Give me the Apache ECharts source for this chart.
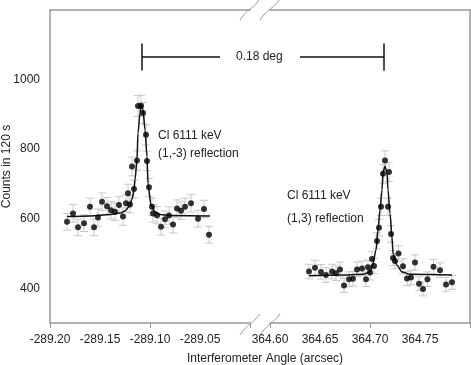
<!DOCTYPE html>
<html>
<head>
<meta charset="utf-8">
<script src="https://cdn.jsdelivr.net/npm/echarts@6/dist/echarts.min.js"></script>
<style>
    html, body { margin: 0; padding: 0; background: #fff; }
    #chart { width: 471px; height: 365px; }
</style>
</head>
<body>
<div id="chart"></div>
<script>
// (1,-3) reflection, left panel
const leftAngles = [
    -289.183, -289.177, -289.172, -289.166, -289.160, -289.156, -289.152, -289.148,
    -289.143, -289.139, -289.135, -289.131, -289.127, -289.124, -289.122, -289.120,
    -289.118, -289.116, -289.113, -289.112, -289.109, -289.107, -289.104, -289.103,
    -289.101, -289.098, -289.097, -289.093, -289.089, -289.085, -289.081, -289.077,
    -289.073, -289.069, -289.065, -289.059, -289.052, -289.046, -289.041
];
const leftCounts = [
    591, 615, 575, 587, 634, 575, 603, 649,
    636, 624, 620, 639, 606, 644, 673, 641,
    750, 685, 767, 924, 925, 904, 841, 766,
    690, 634, 615, 610, 577, 598, 609, 583,
    629, 623, 634, 644, 600, 628, 554
];
const leftErrors = [
    24, 25, 24, 24, 25, 24, 25, 25,
    25, 25, 25, 25, 25, 25, 26, 25,
    27, 26, 28, 30, 30, 30, 29, 28,
    26, 25, 25, 25, 24, 24, 25, 24,
    25, 25, 25, 25, 24, 25, 24
];
const leftFitAngles = [
    -289.183, -289.160, -289.140, -289.130, -289.125, -289.121, -289.118, -289.116,
    -289.115, -289.113, -289.112, -289.110, -289.109, -289.107, -289.105, -289.103,
    -289.102, -289.099, -289.095, -289.090, -289.080, -289.040
];
const leftFitCounts = [
    606, 608, 612, 616, 622, 634, 656, 682,
    712, 770, 846, 904, 928, 914, 856, 779,
    700, 640, 620, 612, 609, 608
];

// (1,3) reflection, right panel
const rightAngles = [
    364.639, 364.645, 364.651, 364.656, 364.662, 364.666, 364.670, 364.674,
    364.679, 364.683, 364.687, 364.692, 364.696, 364.698, 364.700, 364.702,
    364.704, 364.707, 364.709, 364.711, 364.713, 364.715, 364.718, 364.719,
    364.721, 364.723, 364.725, 364.7285, 364.733, 364.737, 364.741, 364.745,
    364.749, 364.753, 364.7575, 364.7635, 364.770, 364.776, 364.782
];
const rightCounts = [
    448, 459, 447, 438, 448, 443, 454, 408,
    426, 427, 454, 457, 426, 460, 445, 484,
    464, 536, 574, 634, 729, 767, 634, 734,
    556, 487, 478, 500, 463, 428, 431, 474,
    413, 398, 426, 462, 452, 411, 417
];
const rightErrors = [
    21, 21, 21, 21, 21, 21, 21, 20,
    21, 21, 21, 21, 21, 21, 21, 22,
    22, 23, 24, 25, 27, 28, 25, 27,
    24, 22, 22, 22, 22, 21, 21, 22,
    20, 20, 21, 21, 21, 20, 20
];
const rightFitAngles = [
    364.639, 364.670, 364.693, 364.700, 364.703, 364.706, 364.708, 364.710,
    364.712, 364.713, 364.715, 364.717, 364.718, 364.720, 364.722, 364.723,
    364.727, 364.732, 364.740, 364.782
];
const rightFitCounts = [
    436, 438, 440, 447, 471, 510, 568, 626,
    683, 732, 751, 732, 683, 615, 548, 500,
    466, 447, 440, 438
];

// axis ticks and labels
const leftTickValues = [-289.2, -289.1, -289.0];
const leftLabelValues = [-289.2, -289.15, -289.1, -289.05];
const rightTickValues = [364.6, 364.7, 364.8];
const rightLabelValues = [364.6, 364.65, 364.7, 364.75];
const countLabelValues = [400, 600, 800, 1000];

// 0.18 deg separation bar, between the two peaks
const barLeftAngles = [-289.108, -289.030];
const barRightAngles = [364.630, 364.714];
const barCounts = [1026, 1066, 1104];

const frameColor = "#999";
const textColor = "#222";
const font = "Liberation Sans, Arial, sans-serif";

const chart = echarts.init(document.getElementById("chart"));

function zip(xs, ys, es) {
    return xs.map((x, i) => (es ? [x, ys[i], es[i]] : [x, ys[i]]));
}

function errorBars(params, api) {
    const x = api.value(0);
    const y = api.value(1);
    const e = api.value(2);
    const top = api.coord([x, y + e]);
    const bottom = api.coord([x, y - e]);
    const cap = 4;
    const style = { stroke: "#c8c8c8", lineWidth: 1 };

    return {
        type: "group",
        children: [
            { type: "line", shape: { x1: top[0], y1: top[1], x2: bottom[0], y2: bottom[1] }, style },
            { type: "line", shape: { x1: top[0] - cap, y1: top[1], x2: top[0] + cap, y2: top[1] }, style },
            { type: "line", shape: { x1: bottom[0] - cap, y1: bottom[1], x2: bottom[0] + cap, y2: bottom[1] }, style }
        ]
    };
}

function bottomAxis(gridIndex, min, max, ticks, labels) {
    return {
        type: "value",
        gridIndex,
        position: "bottom",
        min,
        max,
        axisLine: { show: true, lineStyle: { color: frameColor, width: 1.5 } },
        axisTick: { show: true, customValues: ticks, length: 5, lineStyle: { color: frameColor } },
        axisLabel: {
            customValues: labels,
            formatter: v => v.toFixed(2),
            color: textColor,
            fontFamily: font,
            fontSize: 12,
            margin: 11
        },
        splitLine: { show: false }
    };
}

function topAxis(gridIndex, min, max) {
    return {
        type: "value",
        gridIndex,
        position: "top",
        min,
        max,
        axisLine: { show: true, lineStyle: { color: frameColor, width: 1.5 } },
        axisTick: { show: false },
        axisLabel: { show: false },
        splitLine: { show: false }
    };
}

function segment(x1, y1, x2, y2) {
    return [{ coord: [x1, y1] }, { coord: [x2, y2] }];
}

function breakMark(x, y) {
    return {
        type: "bezierCurve",
        shape: {
            x1: x, y1: y + 11,
            cpx1: x + 8, cpy1: y - 1,
            cpx2: x + 12, cpy2: y + 1,
            x2: x + 20, y2: y - 10
        },
        style: { stroke: frameColor, lineWidth: 1, fill: null }
    };
}

function note(text, left, top) {
    return {
        type: "text",
        left,
        top,
        style: { text, fill: textColor, font: `12px ${font}` }
    };
}

const scaleBarStyle = { color: "#111", width: 1.5, type: "solid" };

chart.setOption({
    animation: false,
    textStyle: { fontFamily: font },
    grid: [
        { left: 50, right: 221, top: 10, bottom: 42, outerBoundsMode: "none" },
        { left: 270, right: 1, top: 10, bottom: 42, outerBoundsMode: "none" }
    ],
    xAxis: [
        bottomAxis(0, -289.2, -289.0, leftTickValues, leftLabelValues),
        topAxis(0, -289.2, -289.0),
        bottomAxis(1, 364.6, 364.8, rightTickValues, rightLabelValues),
        topAxis(1, 364.6, 364.8)
    ],
    yAxis: [
        {
            type: "value",
            gridIndex: 0,
            min: 300,
            max: 1200,
            name: "Counts in 120 s",
            nameLocation: "middle",
            nameGap: 37,
            nameMoveOverlap: false,
            nameTextStyle: { color: textColor, fontFamily: font, fontSize: 12 },
            axisLine: { show: true, lineStyle: { color: frameColor, width: 1.5 } },
            axisTick: { show: false },
            axisLabel: {
                customValues: countLabelValues,
                formatter: v => String(v),
                color: textColor,
                fontFamily: font,
                fontSize: 12,
                margin: 10
            },
            splitLine: { show: false }
        },
        {
            type: "value",
            gridIndex: 1,
            position: "right",
            min: 300,
            max: 1200,
            axisLine: { show: true, lineStyle: { color: frameColor, width: 1.5 } },
            axisTick: { show: false },
            axisLabel: { show: false },
            splitLine: { show: false }
        }
    ],
    series: [
        {
            name: "(1,-3) errors",
            type: "custom",
            xAxisIndex: 0,
            yAxisIndex: 0,
            renderItem: errorBars,
            data: zip(leftAngles, leftCounts, leftErrors),
            z: 1
        },
        {
            name: "(1,-3) fit",
            type: "line",
            xAxisIndex: 0,
            yAxisIndex: 0,
            smooth: 0.3,
            smoothMonotone: "x",
            showSymbol: false,
            lineStyle: { color: "#111", width: 1.5 },
            data: zip(leftFitAngles, leftFitCounts),
            z: 2,
            markLine: {
                silent: true,
                symbol: ["none", "none"],
                label: { show: false },
                lineStyle: scaleBarStyle,
                data: [
                    segment(barLeftAngles[0], barCounts[1], barLeftAngles[1], barCounts[1]),
                    segment(barLeftAngles[0], barCounts[0], barLeftAngles[0], barCounts[2])
                ]
            }
        },
        {
            name: "(1,-3) counts",
            type: "scatter",
            xAxisIndex: 0,
            yAxisIndex: 0,
            symbolSize: 6,
            itemStyle: { color: "#000" },
            data: zip(leftAngles, leftCounts),
            z: 3
        },
        {
            name: "(1,3) errors",
            type: "custom",
            xAxisIndex: 2,
            yAxisIndex: 1,
            renderItem: errorBars,
            data: zip(rightAngles, rightCounts, rightErrors),
            z: 1
        },
        {
            name: "(1,3) fit",
            type: "line",
            xAxisIndex: 2,
            yAxisIndex: 1,
            smooth: 0.3,
            smoothMonotone: "x",
            showSymbol: false,
            lineStyle: { color: "#111", width: 1.5 },
            data: zip(rightFitAngles, rightFitCounts),
            z: 2,
            markLine: {
                silent: true,
                symbol: ["none", "none"],
                label: { show: false },
                lineStyle: scaleBarStyle,
                data: [
                    segment(barRightAngles[0], barCounts[1], barRightAngles[1], barCounts[1]),
                    segment(barRightAngles[1], barCounts[0], barRightAngles[1], barCounts[2])
                ]
            }
        },
        {
            name: "(1,3) counts",
            type: "scatter",
            xAxisIndex: 2,
            yAxisIndex: 1,
            symbolSize: 6,
            itemStyle: { color: "#000" },
            data: zip(rightAngles, rightCounts),
            z: 3
        }
    ],
    graphic: [
        breakMark(240, 9),
        breakMark(260, 9),
        breakMark(240, 324),
        breakMark(260, 324),
        note("0.18 deg", 236, 51),
        note("Cl 6111 keV", 158, 130),
        note("(1,-3) reflection", 158, 148),
        note("Cl 6111 keV", 287, 190),
        note("(1,3) reflection", 287, 213),
        {
            type: "text",
            left: 187,
            top: 353,
            style: { text: "Interferometer Angle (arcsec)", fill: textColor, font: `12px ${font}` }
        }
    ]
});
</script>
</body>
</html>
